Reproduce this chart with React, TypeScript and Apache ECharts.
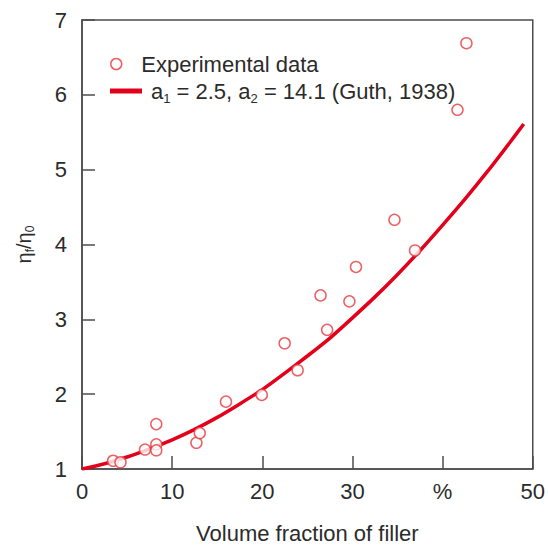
import React, { useEffect, useRef } from "react";
import * as echarts from "echarts";

const expX = [3.45, 4.27, 6.99, 8.24, 8.24, 8.24, 12.69, 13.06, 15.97, 19.94, 22.48, 23.92, 26.46, 27.19, 29.66, 30.39, 34.66, 36.94, 41.65, 42.64];
const expY = [1.11, 1.09, 1.26, 1.6, 1.33, 1.25, 1.35, 1.48, 1.9, 1.99, 2.68, 2.32, 3.32, 2.86, 3.24, 3.7, 4.33, 3.92, 5.8, 6.69];

const guthX = [0, 2.5, 5, 7.5, 10, 12.5, 15, 17.5, 20, 22.5, 25, 27.5, 30, 32.5, 35, 37.5, 40, 42.5, 45, 47.5, 49];
const guthY = [1.0, 1.07, 1.16, 1.27, 1.39, 1.53, 1.69, 1.87, 2.06, 2.28, 2.51, 2.75, 3.02, 3.3, 3.6, 3.92, 4.26, 4.61, 4.98, 5.37, 5.61];

const xTickLabels: Record<number, string> = { 0: "0", 10: "10", 20: "20", 30: "30", 40: "%", 50: "50" };

const RED_LINE = "#e2001a";
const RED_MARK = "#e63a3f";
const AXIS = "#4d4d4d";
const TEXT = "#2b2b2b";
const FONT = "'Liberation Sans', Arial, Helvetica, sans-serif";

export default function App() {
  const ref = useRef<HTMLDivElement>(null);
  useEffect(() => {
    if (!ref.current) return;
    const chart = echarts.init(ref.current, undefined, { renderer: "svg" });
    const expName = "Experimental data";
    const guthName = "Guth";
    chart.setOption({
      animation: false,
      backgroundColor: "#ffffff",
      textStyle: { fontFamily: FONT },
      grid: {
        left: 82,
        right: 14,
        top: 20,
        bottom: 78,
        show: true,
        borderColor: AXIS,
        borderWidth: 1.5,
        backgroundColor: "transparent",
      },
      legend: [
        {
          left: 105,
          top: 48,
          itemWidth: 32,
          itemHeight: 11,
          data: [
            {
              name: expName,
              icon: "circle",
              itemStyle: { color: "#ffffff", borderColor: RED_MARK, borderWidth: 1.5 },
            },
          ],
          textStyle: { fontSize: 22, color: TEXT, fontFamily: FONT, padding: [0, 0, 0, 4] },
        },
        {
          left: 105,
          top: 75,
          itemWidth: 32,
          itemHeight: 5,
          data: [{ name: guthName, icon: "rect", itemStyle: { color: RED_LINE } }],
          formatter: () => "{t|a}{s|1}{t| = 2.5, a}{s|2}{t| = 14.1 (Guth, 1938)}",
          textStyle: {
            color: TEXT,
            fontFamily: FONT,
            padding: [0, 0, 0, 4],
            rich: {
              t: { fontSize: 22, color: TEXT, fontFamily: FONT, lineHeight: 28 },
              s: { fontSize: 13, color: TEXT, fontFamily: FONT, lineHeight: 13, verticalAlign: "bottom" },
            },
          },
        },
      ],
      xAxis: {
        type: "value",
        min: 0,
        max: 50,
        interval: 10,
        name: "Volume fraction of filler",
        nameLocation: "middle",
        nameGap: 53,
        nameTextStyle: { fontSize: 22, color: TEXT, fontFamily: FONT },
        axisLine: { show: true, lineStyle: { color: AXIS, width: 1.5 } },
        axisTick: { show: true, inside: true, length: 13, lineStyle: { color: AXIS, width: 1.5 } },
        axisLabel: {
          fontSize: 22,
          color: TEXT,
          fontFamily: FONT,
          margin: 11,
          formatter: (v: number) => xTickLabels[v] ?? String(v),
        },
        splitLine: { show: false },
      },
      yAxis: {
        type: "value",
        min: 1,
        max: 7,
        interval: 1,
        name: "{t|η}{s|f}{t|/η}{s|0}",
        nameLocation: "middle",
        nameGap: 46,
        nameTextStyle: {
          color: TEXT,
          fontFamily: FONT,
          rich: {
            t: { fontSize: 20, color: TEXT, fontFamily: FONT, lineHeight: 24 },
            s: { fontSize: 12, color: TEXT, fontFamily: FONT, lineHeight: 12, verticalAlign: "bottom" },
          },
        },
        axisLine: { show: true, lineStyle: { color: AXIS, width: 1.5 } },
        axisTick: { show: true, inside: true, length: 13, lineStyle: { color: AXIS, width: 1.5 } },
        axisLabel: { fontSize: 22, color: TEXT, fontFamily: FONT, margin: 15 },
        splitLine: { show: false },
      },
      series: [
        {
          name: guthName,
          type: "line",
          smooth: 0.2,
          showSymbol: false,
          symbol: "none",
          lineStyle: { color: RED_LINE, width: 3.5 },
          itemStyle: { color: RED_LINE },
          data: guthX.map((x, i) => [x, guthY[i]]),
          z: 2,
        },
        {
          name: expName,
          type: "scatter",
          symbol: "circle",
          symbolSize: 11,
          itemStyle: { color: "#ffffff", borderColor: RED_MARK, borderWidth: 1.5 },
          data: expX.map((x, i) => [x, expY[i]]),
          z: 3,
        },
      ],
    });
    return () => chart.dispose();
  }, []);
  return <div ref={ref} style={{ width: 548, height: 549, position: "absolute", left: 0, top: 0 }} />;
}
